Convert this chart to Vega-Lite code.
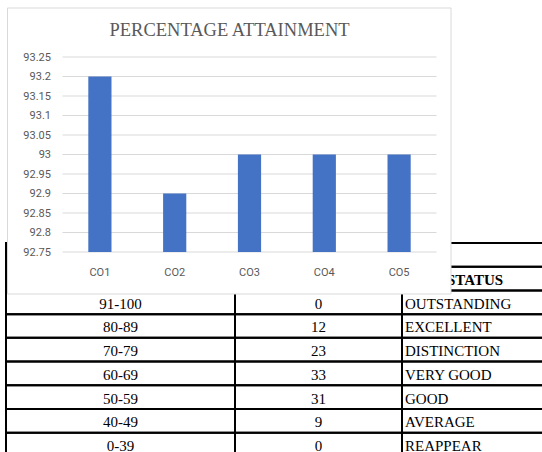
{
  "$schema": "https://vega.github.io/schema/vega-lite/v6.json",
  "width": 542,
  "height": 452,
  "autosize": "none",
  "padding": 0,
  "background": "white",
  "config": {"view": {"stroke": null}},
  "title": {
    "text": "PERCENTAGE ATTAINMENT",
    "font": "Liberation Serif",
    "fontSize": 18.5,
    "fontWeight": "normal",
    "color": "#595959",
    "anchor": "middle",
    "frame": "group",
    "offset": -54,
    "dx": -41.5,
    "baseline": "alphabetic"
  },
  "datasets": {
    "table": [
      {"key": "top", "range": "", "count": "", "status": ""},
      {"key": "head", "range": "", "count": "", "status": "STATUS"},
      {"key": "91-100", "range": "91-100", "count": "0", "status": "OUTSTANDING"},
      {"key": "80-89", "range": "80-89", "count": "12", "status": "EXCELLENT"},
      {"key": "70-79", "range": "70-79", "count": "23", "status": "DISTINCTION"},
      {"key": "60-69", "range": "60-69", "count": "33", "status": "VERY GOOD"},
      {"key": "50-59", "range": "50-59", "count": "31", "status": "GOOD"},
      {"key": "40-49", "range": "40-49", "count": "9", "status": "AVERAGE"},
      {"key": "0-39", "range": "0-39", "count": "0", "status": "REAPPEAR"}
    ],
    "attain": [
      {"co": "CO1", "value": 93.2},
      {"co": "CO2", "value": 92.9},
      {"co": "CO3", "value": 93.0},
      {"co": "CO4", "value": 93.0},
      {"co": "CO5", "value": 93.0}
    ],
    "gridlines": [
      {"v": 92.75}, {"v": 92.8}, {"v": 92.85}, {"v": 92.9}, {"v": 92.95}, {"v": 93.0},
      {"v": 93.05}, {"v": 93.1}, {"v": 93.15}, {"v": 93.2}, {"v": 93.25}
    ],
    "panel": [
      {"chart": "PERCENTAGE ATTAINMENT"}
    ]
  },
  "layer": [
    {
      "data": {"name": "table"},
      "encoding": {
        "x": {"datum": "RANGE", "type": "nominal", "axis": null,
              "scale": {"domain": ["RANGE"], "range": [6, 235], "paddingInner": 0, "paddingOuter": 0}},
        "y": {"field": "key", "type": "nominal", "axis": null,
              "scale": {"domain": ["top", "head", "91-100", "80-89", "70-79", "60-69", "50-59", "40-49", "0-39"], "range": [243, 456.4], "paddingInner": 0, "paddingOuter": 0}}
      },
      "layer": [
        {"mark": {"type": "rect", "filled": false, "stroke": "black", "strokeWidth": 2}},
        {"mark": {"type": "text", "font": "Liberation Serif", "fontSize": 15, "color": "black", "align": "center", "baseline": "middle", "dy": 1.5},
         "encoding": {"text": {"field": "range"}}}
      ]
    },
    {
      "data": {"name": "table"},
      "encoding": {
        "x": {"datum": "COUNT", "type": "nominal", "axis": null,
              "scale": {"domain": ["COUNT"], "range": [235, 402], "paddingInner": 0, "paddingOuter": 0}},
        "y": {"field": "key", "type": "nominal", "axis": null,
              "scale": {"domain": ["top", "head", "91-100", "80-89", "70-79", "60-69", "50-59", "40-49", "0-39"], "range": [243, 456.4], "paddingInner": 0, "paddingOuter": 0}}
      },
      "layer": [
        {"mark": {"type": "rect", "filled": false, "stroke": "black", "strokeWidth": 2}},
        {"mark": {"type": "text", "font": "Liberation Serif", "fontSize": 15, "color": "black", "align": "center", "baseline": "middle", "dy": 1.5},
         "encoding": {"text": {"field": "count"}}}
      ]
    },
    {
      "data": {"name": "table"},
      "encoding": {
        "x": {"datum": "STATUS", "type": "nominal", "axis": null,
              "scale": {"domain": ["STATUS"], "range": [402, 548], "paddingInner": 0, "paddingOuter": 0}},
        "y": {"field": "key", "type": "nominal", "axis": null,
              "scale": {"domain": ["top", "head", "91-100", "80-89", "70-79", "60-69", "50-59", "40-49", "0-39"], "range": [243, 456.4], "paddingInner": 0, "paddingOuter": 0}}
      },
      "layer": [
        {"mark": {"type": "rect", "filled": false, "stroke": "black", "strokeWidth": 2}},
        {"transform": [{"filter": "datum.key != 'head'"}],
         "mark": {"type": "text", "font": "Liberation Serif", "fontSize": 15, "color": "black", "align": "left", "baseline": "middle", "dx": 3, "dy": 1.5},
         "encoding": {"x": {"datum": "STATUS", "type": "nominal", "bandPosition": 0}, "text": {"field": "status"}}},
        {"transform": [{"filter": "datum.key == 'head'"}],
         "mark": {"type": "text", "font": "Liberation Serif", "fontSize": 15, "fontWeight": "bold", "color": "black", "align": "center", "baseline": "middle", "dy": 1.5},
         "encoding": {"text": {"field": "status"}}}
      ]
    },
    {
      "data": {"name": "panel"},
      "mark": {"type": "rect", "fill": "white", "stroke": "#d9d9d9", "strokeWidth": 1},
      "encoding": {
        "x": {"field": "chart", "type": "nominal", "axis": null,
              "scale": {"range": [7.5, 451], "paddingInner": 0, "paddingOuter": 0}},
        "y": {"field": "chart", "type": "nominal", "axis": null,
              "scale": {"range": [8, 294], "paddingInner": 0, "paddingOuter": 0}}
      }
    },
    {
      "encoding": {
        "y": {"type": "quantitative", "title": null,
              "scale": {"domain": [92.75, 93.25], "range": [252, 57], "zero": false, "nice": false},
              "axis": {"orient": "left", "offset": -62.5, "domain": false, "ticks": false, "grid": false, "zindex": 1,
                       "values": [92.75, 92.8, 92.85, 92.9, 92.95, 93.0, 93.05, 93.1, 93.15, 93.2, 93.25],
                       "format": "~r", "labelFont": "Roboto", "labelFontSize": 11, "labelColor": "#595959", "labelPadding": 12}}
      },
      "layer": [
        {
          "data": {"name": "gridlines"},
          "mark": {"type": "rule", "color": "#d9d9d9", "strokeWidth": 1},
          "encoding": {
            "x": {"datum": 0, "type": "quantitative", "axis": null,
                  "scale": {"domain": [0, 1], "range": [62.5, 436.5], "zero": false, "nice": false}},
            "x2": {"datum": 1},
            "y": {"field": "v", "type": "quantitative"}
          }
        },
        {
          "data": {"name": "attain"},
          "mark": {"type": "bar", "color": "#4472C4"},
          "encoding": {
            "x": {"field": "co", "type": "nominal", "title": null,
                  "scale": {"range": [62.5, 436.5], "paddingInner": 0.69, "paddingOuter": 0.345},
                  "axis": {"orient": "bottom", "offset": -200, "domain": false, "ticks": false, "grid": false, "zindex": 1,
                           "labelAngle": 0, "labelFont": "Roboto", "labelFontSize": 11, "labelColor": "#595959", "labelPadding": 14}},
            "y": {"field": "value", "type": "quantitative"},
            "y2": {"datum": 92.75}
          }
        }
      ],
      "resolve": {"scale": {"x": "independent"}}
    }
  ],
  "resolve": {"scale": {"x": "independent", "y": "independent"}}
}
